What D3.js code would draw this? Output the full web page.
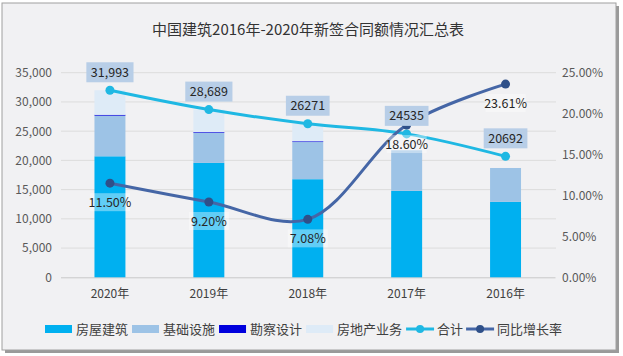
<!DOCTYPE html>
<html><head><meta charset="utf-8">
<script src="https://cdn.jsdelivr.net/npm/d3@7"></script>
<style>
html,body{margin:0;padding:0;background:#fff;}
svg{display:block;font-family:"Noto Sans CJK SC","Noto Sans",sans-serif;}
</style></head>
<body>
<svg id="c" width="623" height="356"></svg>
<script>
// ---- data ----
const title = "中国建筑2016年-2020年新签合同额情况汇总表";
const years = ["2020年","2019年","2018年","2017年","2016年"];
const housing = [20700, 19570, 16780, 14790, 12900];      // 房屋建筑
const infra = [6950, 5130, 6360, 6944, 5800];             // 基础设施
const survey = [150, 130, 130, 0, 0];                     // 勘察设计
const realty = [4193, 3859, 3001, 0, 0];                  // 房地产业务
const totals = [31993, 28689, 26271, 24535, 20692];       // 合计
const totalLabels = ["31,993","28,689","26271","24535","20692"];
const growth = [0.1150, 0.0920, 0.0708, 0.1860, 0.2361];  // 同比增长率
const growthLabels = ["11.50%","9.20%","7.08%","18.60%","23.61%"];
const leftTicks = [0,5000,10000,15000,20000,25000,30000,35000];
const rightTicks = [0,0.05,0.10,0.15,0.20,0.25];
const seriesNames = ["房屋建筑","基础设施","勘察设计","房地产业务"];
const seriesColors = ["#00b0f0","#9dc3e6","#0000dd","#deebf7"];
const totalName = "合计", growthName = "同比增长率";
const totalColor = "#1fb8e3", growthColor = "#4566a6", growthMarker = "#2f5089";

// ---- layout ----
const svg = d3.select("#c");
// frame
svg.append("rect").attr("x",5).attr("y",6).attr("width",614).attr("height",347).attr("fill","#9a9a9a");
svg.append("rect").attr("x",2).attr("y",3).attr("width",614).attr("height",347)
  .attr("fill","#f1f1f3").attr("stroke","#a0a0a0").attr("stroke-width",1);

svg.append("text").attr("x",308).attr("y",35).attr("text-anchor","middle")
  .attr("font-size",15).attr("fill","#333").text(title);

const x = d3.scaleBand().domain(years).range([60.5,555]).paddingInner(0.687).paddingOuter(0.3435);
const yL = d3.scaleLinear().domain([0,35000]).range([277.3,72.7]);
const yR = d3.scaleLinear().domain([0,0.25]).range([277.3,72.7]);

// gridlines
svg.append("g").selectAll("line").data(leftTicks.slice(1)).join("line")
  .attr("x1",61).attr("x2",556).attr("y1",d=>yL(d)).attr("y2",d=>yL(d))
  .attr("stroke","#dcdcdc").attr("stroke-width",1);

// left axis
const gl = svg.append("g").attr("transform","translate(61,0)")
  .call(d3.axisLeft(yL).tickValues(leftTicks).tickFormat(d3.format(",")).tickSize(0).tickPadding(9));
gl.select(".domain").remove();
gl.selectAll("text").attr("font-size",12).attr("fill","#595959").attr("font-family","'Noto Sans CJK SC',sans-serif");

// right axis
const gr = svg.append("g").attr("transform","translate(556,0)")
  .call(d3.axisRight(yR).tickValues(rightTicks).tickFormat(d3.format(".2%")).tickSize(0).tickPadding(6));
gr.select(".domain").remove();
gr.selectAll("text").attr("font-size",12).attr("fill","#595959").attr("font-family","'Noto Sans CJK SC',sans-serif");

// bottom axis
const gb = svg.append("g").attr("transform","translate(0,277.3)")
  .call(d3.axisBottom(x).tickSize(0).tickPadding(12));
gb.select(".domain").attr("stroke","#c8c8c8");
gb.selectAll("text").attr("font-size",12).attr("fill","#404040").attr("font-family","'Noto Sans CJK SC',sans-serif");

// stacked bars
const rows = years.map((y,i)=>({year:y, s0:housing[i], s1:infra[i], s2:survey[i], s3:realty[i]}));
const stack = d3.stack().keys(["s0","s1","s2","s3"])(rows);
svg.append("g").selectAll("g").data(stack).join("g").attr("fill",(d,i)=>seriesColors[i])
  .selectAll("rect").data(d=>d).join("rect")
  .attr("x",d=>x(d.data.year)).attr("width",x.bandwidth())
  .attr("y",d=>yL(d[1])).attr("height",d=>Math.max(0,yL(d[0])-yL(d[1])));

const cx = (d,i)=>x(years[i])+x.bandwidth()/2;

// total line
svg.append("path").datum(totals)
  .attr("d",d3.line().x(cx).y(d=>yL(d)).curve(d3.curveCatmullRom))
  .attr("fill","none").attr("stroke",totalColor).attr("stroke-width",3);
svg.append("g").selectAll("circle").data(totals).join("circle")
  .attr("cx",cx).attr("cy",d=>yL(d)).attr("r",4.5).attr("fill",totalColor);

// growth line
svg.append("path").datum(growth)
  .attr("d",d3.line().x(cx).y(d=>yR(d)).curve(d3.curveCatmullRom))
  .attr("fill","none").attr("stroke",growthColor).attr("stroke-width",3);
svg.append("g").selectAll("circle").data(growth).join("circle")
  .attr("cx",cx).attr("cy",d=>yR(d)).attr("r",4.5).attr("fill",growthMarker);

// growth labels
const glab = svg.append("g").selectAll("g").data(growth).join("g")
  .attr("transform",(d,i)=>`translate(${cx(d,i)},${yR(d)+19})`);
glab.append("rect").attr("x",-20).attr("y",-9).attr("width",40).attr("height",18)
  .attr("fill","rgba(255,255,255,0.38)");
glab.append("text").attr("text-anchor","middle").attr("dy","0.36em")
  .attr("font-size",12.5).attr("fill","#262626").text((d,i)=>growthLabels[i]);

// total labels
const tlab = svg.append("g").selectAll("g").data(totals).join("g")
  .attr("transform",(d,i)=>`translate(${cx(d,i)},${yL(d)-18})`);
tlab.append("text").attr("text-anchor","middle").attr("dy","0.36em")
  .attr("font-size",12.5).attr("fill","#262626").text((d,i)=>totalLabels[i]);
tlab.each(function(){
  const t = d3.select(this).select("text");
  const w = t.node().getComputedTextLength();
  d3.select(this).insert("rect","text").attr("x",-w/2-4.5).attr("y",-10).attr("width",w+9).attr("height",20)
    .attr("fill","#b8cee7");
});

// legend
const leg = svg.append("g").attr("transform","translate(45,329)");
let lx = 0;
seriesNames.forEach((n,i)=>{
  leg.append("rect").attr("x",lx).attr("y",-4).attr("width",27).attr("height",8).attr("fill",seriesColors[i]);
  const t = leg.append("text").attr("x",lx+31).attr("dy","0.36em").attr("font-size",13).attr("fill","#404040").text(n);
  lx += 31 + t.node().getComputedTextLength() + 4;
});
[[totalName,totalColor,totalColor],[growthName,growthColor,growthMarker]].forEach(([n,c,m])=>{
  leg.append("line").attr("x1",lx).attr("x2",lx+28).attr("stroke",c).attr("stroke-width",3);
  leg.append("circle").attr("cx",lx+14).attr("r",4).attr("fill",m);
  const t = leg.append("text").attr("x",lx+31).attr("dy","0.36em").attr("font-size",13).attr("fill","#404040").text(n);
  lx += 31 + t.node().getComputedTextLength() + 3;
});
</script>
</body></html>
